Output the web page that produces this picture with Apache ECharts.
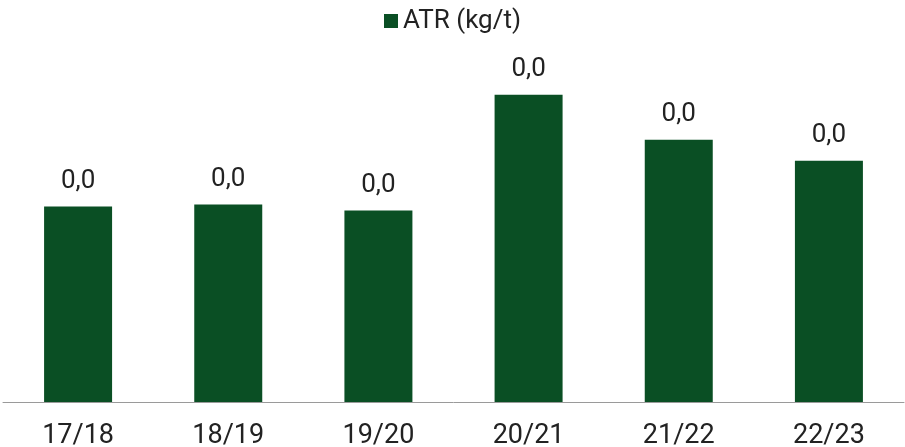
<!DOCTYPE html>
<html>
<head>
<meta charset="utf-8" />
<title>ATR</title>
<style type="text/css">
html,body{height:100%;margin:0px;padding:0px;background:#fff}
#chart{width:905px;height:447px}
</style>
<script src="https://cdn.jsdelivr.net/npm/echarts@6/dist/echarts.min.js"></script>
</head>
<body>
<div id="chart"></div>
<script type="text/javascript">
// safras
var categories = ['17/18','18/19','19/20','20/21','21/22','22/23'];
var atrValues = [139.6, 139.8, 139.2, 150.8, 146.3, 144.2];
// rótulos como aparecem no original
var labelTexts = ['0,0','0,0','0,0','0,0','0,0','0,0'];

var green = '#0a4f24';
var option = {
	animation: false,
	legend: {
		top: 3,
		left: 'center',
		itemWidth: 14,
		itemHeight: 14,
		icon: 'rect',
		textStyle: {fontFamily: 'Roboto', fontSize: 26, color: '#222'},
		data: ['ATR (kg/t)']
	},
	grid: {left: 3, right: 1, top: 43, bottom: 45, outerBoundsMode: 'none', containLabel: false},
	xAxis: {
		type: 'category',
		data: categories,
		axisLine: {lineStyle: {color: '#9a9a9a', width: 1}},
		axisTick: {length: 9, lineStyle: {color: '#9a9a9a'}},
		axisLabel: {fontFamily: 'Roboto', fontSize: 27, color: '#222', margin: 21}
	},
	yAxis: {
		type: 'value',
		min: 120,
		max: 156,
		show: false
	},
	series: [{
		name: 'ATR (kg/t)',
		type: 'bar',
		barWidth: 68,
		itemStyle: {color: green},
		data: atrValues,
		label: {
			show: true,
			position: 'top',
			distance: 12,
			fontFamily: 'Roboto',
			fontSize: 26,
			color: '#222',
			formatter: function(p){ return labelTexts[p.dataIndex]; }
		}
	}]
};
echarts.init(document.getElementById('chart')).setOption(option);
</script>
</body>
</html>
